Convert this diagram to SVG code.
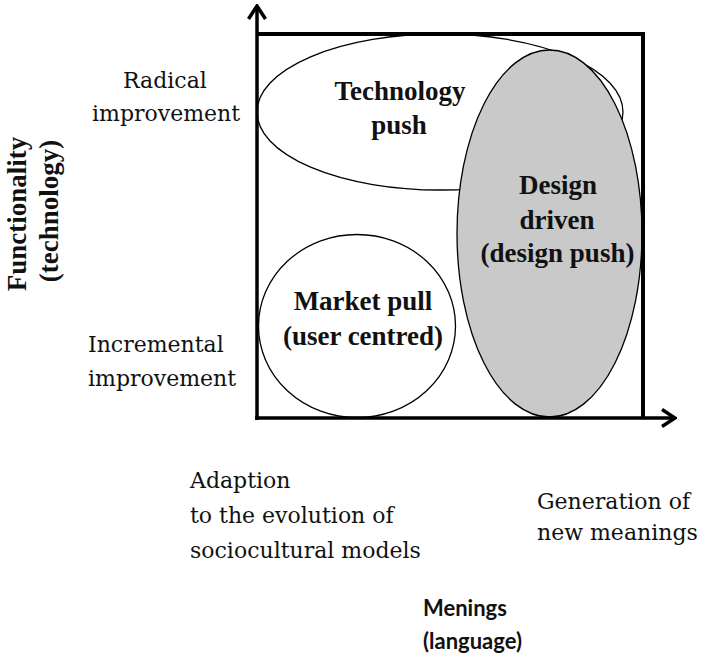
<svg xmlns="http://www.w3.org/2000/svg" width="701" height="655" viewBox="0 0 701 655">
  <style>
    .lbl { font-family: "DejaVu Serif", "Liberation Serif", serif; font-size: 22px; fill: #111; }
    .bold { font-family: "Liberation Serif", "Times New Roman", serif; font-size: 27px; font-weight: bold; fill: #111; text-anchor: middle; }
    .axisname { font-family: Lato, "Noto Sans", sans-serif; font-size: 22px; font-weight: bold; fill: #111; }
    .shape { stroke: #000; stroke-width: 1.3; }
    .frame { fill: none; stroke: #000; stroke-width: 4; }
    .axis { fill: none; stroke: #000; stroke-width: 3.5; }
  </style>
  <defs>
    <marker id="chevron" viewBox="-14 -10 16 20" markerWidth="16" markerHeight="20" markerUnits="userSpaceOnUse" refX="0" refY="0" orient="auto">
      <polyline points="-13,-8.5 0,0 -13,8.5" fill="none" stroke="#000" stroke-width="3.5"/>
    </marker>
  </defs>

  <rect width="701" height="655" fill="#fff"/>

  <!-- quadrant regions -->
  <g id="technology-push">
    <ellipse class="shape" cx="440" cy="112" rx="183" ry="78" fill="#fff"/>
    <text class="bold" x="400" y="100">Technology</text>
    <text class="bold" x="399" y="134">push</text>
  </g>

  <g id="market-pull">
    <ellipse class="shape" cx="357" cy="326" rx="98.5" ry="91.5" fill="#fff"/>
    <text class="bold" x="363" y="310">Market pull</text>
    <text class="bold" x="363" y="345">(user centred)</text>
  </g>

  <g id="design-driven">
    <ellipse class="shape" cx="549.5" cy="233.5" rx="92.5" ry="183.5" fill="#c9c9c9"/>
    <text class="bold" x="558" y="194">Design</text>
    <text class="bold" x="557" y="229">driven</text>
    <text class="bold" x="557.5" y="262">(design push)</text>
  </g>

  <!-- frame and axes -->
  <g id="axes">
    <polyline class="frame" points="257,34 643,34 643,418"/>
    <line class="axis" x1="257" y1="420" x2="257" y2="6" marker-end="url(#chevron)"/>
    <line class="axis" x1="255" y1="418" x2="675" y2="418" marker-end="url(#chevron)"/>
  </g>

  <!-- axis annotations -->
  <g id="y-axis-labels">
    <text class="bold" transform="translate(26,214) rotate(-90)">Functionality</text>
    <text class="bold" transform="translate(58,211) rotate(-90)">(technology)</text>
    <text class="lbl" x="123" y="88">Radical</text>
    <text class="lbl" x="92" y="121">improvement</text>
    <text class="lbl" x="88" y="352">Incremental</text>
    <text class="lbl" x="88" y="386">improvement</text>
  </g>

  <g id="x-axis-labels">
    <text class="lbl" x="190" y="488">Adaption</text>
    <text class="lbl" x="190" y="523">to the evolution  of</text>
    <text class="lbl" x="190" y="558">sociocultural models</text>
    <text class="lbl" x="537" y="509">Generation of</text>
    <text class="lbl" x="537" y="540">new meanings</text>
    <text class="axisname" x="423" y="616">Menings</text>
    <text class="axisname" x="423" y="649">(language)</text>
  </g>
</svg>
